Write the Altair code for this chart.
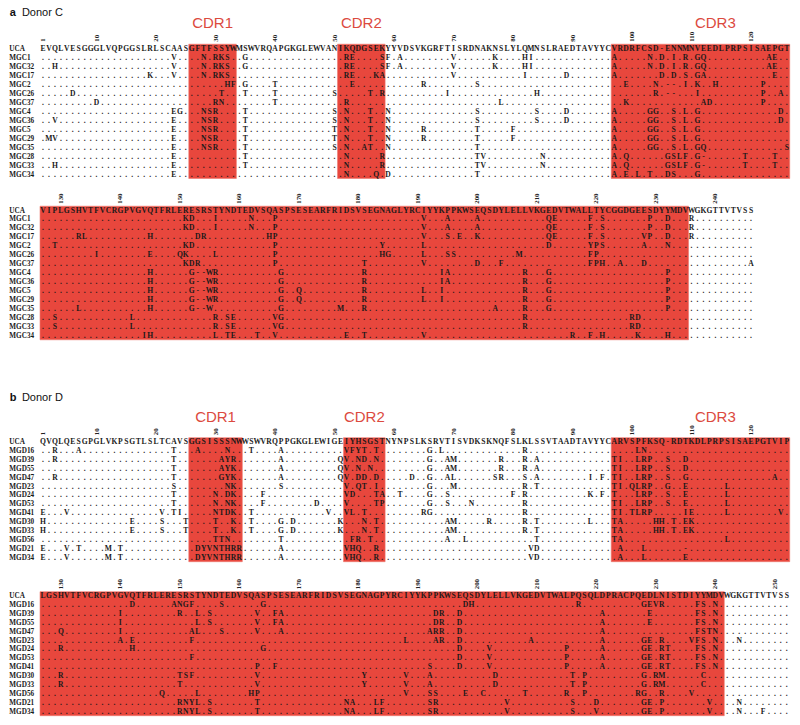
import re
import altair as alt
import pandas as pd

# ---------------- sequence data ----------------
C_UCA_1 = "EVQLVESGGGLVQPGGSLRLSCAASGFTFSSYWMSWVRQAPGKGLEWVANIKQDGSEKYYVDSVKGRFTISRDNAKNSLYLQMNSLRAEDTAVYYCVRDRFCSD-ENNMNVEEDLPRPSISAEPGT"
C_UCA_2 = "VIPLGSHVTFVCRGPVGVQTFRLERESRSTYNDTEDVSQASPSESEARFRIDSVSEGNAGLYRCIYYKPPKWSEQSDYLELLVKGEDVTWALLTYCGGDGEESDYYMDVWGKGTTVTVSS"
C_NAMES = ["MGC1", "MGC32", "MGC17", "MGC2", "MGC26", "MGC37", "MGC4", "MGC36",
           "MGC5", "MGC29", "MGC35", "MGC28", "MGC33", "MGC34"]
C_MUTS = [
    "23V 28N 30RKS 35G 52RE 58SF 61A 70V 77K 82HI 97A 103N 105D 107I 109R 111GQ 123AE 151KD 156I 162N 166P 191V 195A 200A 212QE 219F 221S 229P 232D 236R",
    "3H 23V 28N 30RKS 35G 52RE 58SF 61A 70V 77K 82HI 97A 103N 105D 107I 109R 111GQ 123AE 151KD 156I 162N 166P 191V 195A 200A 212QE 219F 221S 229P 232D 236R",
    "19K 23V 28N 30RKS 52RE 57KA 70V 82I 89D 97A 105D 107D 109S 111GA 124E 133RL 145H 153DR 165HP 191V 195S 197E 200K 212QE 219F 221S 228VP 232D 236R",
    "32HF 35G 40T 53E 65R 74S 99E 104N 106-- 109I 111K 114H 122P 129T 151KD 166P 184Y 191L 212D 219YPS 228A 232N",
    "6D 31T 35T 40T 50S 56T 58R 69I 84H 104R 106-- 111I 122P 125A 136I 145E 150QK 156L 166P 184HG 191L 195SS 207M 219FP",
    "10D 30RN 40T 52R 78L 99K 112AD 122P 151KDR 166P 181T 191V 200D 204F 219FPH 224A 228D 246A",
    "23EG 28NSR 35T 50S 52N 56T 59N 74S 84S 89D 97A 103GG 107S 109L 111G 125D 145H 152G--WR 167G 181R 194IA 208R 212G 232P",
    "3V 23E 28NSR 35T 50S 52N 56T 59N 74S 84S 89D 97A 103GG 107S 109L 111G 125D 145H 152G--WR 167G 181R 194IA 208R 212G 232P",
    "23E 28NSR 35T 50T 52N 56T 59N 65R 74T 80F 97A 103GG 107S 109L 111G 145H 152G--WR 167G 170Q 181R 191L 194I 208R 212G 232P",
    "2MV 23E 28NSR 35T 50T 52N 56T 59N 65R 74T 80F 97A 103GG 107S 109L 111G 145H 152G--WR 167G 170Q 181R 191L 194I 208R 212G 232P",
    "23E 28NSR 35T 50S 52N 55AT 59N 74T 97A 103GG 107S 109L 111GQ 126S 133L 145H 152G--W 167G 177M 181R 203A 208R 212G 232P",
    "23E 35T 52N 58R 74TV 85N 97A 99Q 106GSLF 111G- 119T 124T 129S 142L 156R 158SE 166VG 208R 226RD",
    "3H 23E 35T 52N 58R 74TV 85N 97A 99Q 106GSLF 111G- 119T 124T 129S 142L 156R 158SE 166VG 208R 226RD",
    "23E 52N 57Q 59D 74T 97A 99E 101L 103T 106DS 111G 144IH 156L 158TE 163T 166V 178E 181T 191V 216R 219F 221H 227K 232H",
]

D_UCA_1 = "QVQLQESGPGLVKPSGTLSLTCAVSGGSISSSNWWSWVRQPPGKGLEWIGEIYHSGSTNYNPSLKSRVTISVDKSKNQFSLKLSSVTAADTAVYYCARVSPFKSQ-RDTKDLPRPSISAEPGTVIP"
D_UCA_2 = "LGSHVTFVCRGPVGVQTFRLERESRSTYNDTEDVSQASPSESEARFRIDSVSEGNAGPYRCIYYKPPKWSEQSDYLELLVKGEDVTWALPQSQLDPRACPQEDLNISTDIYYMDVWGKGTTVTVSS"
D_NAMES = ["MGD16", "MGD39", "MGD55", "MGD47", "MGD23", "MGD24", "MGD53", "MGD41",
           "MGD30", "MGD33", "MGD56", "MGD21", "MGD34"]
D_MUTS = [
    "3R 7A 23T 27A 32N 36T 41A 52VFYT 57T 66G 68L 82R 101LN 142D 149ANGF 157S 164G 198DH 217R 228GEVR 237FS 240N",
    "3R 23T 31AYR 41A 51QV 54ND 57N 66G 69AM 78R 82R 84A 97TI 101LRP 106S 109D 140I 150R 153L 155S 163V 166FA 193DR 197D 221A 229E 237FS 240N",
    "23T 31AYK 41A 51QV 54N 56N 66G 69AM 78R 82R 84A 97TI 101LRP 106S 109D 140I 153L 155S 163V 166FA 193DR 197D 221A 229E 237FS 240N",
    "3R 23T 31GYK 41A 51QV 54DD 57D 63D 66G 69AL 77SR 82S 84A 93I 95F 97TI 101LRP 106S 109G 124A 130Q 140I 152AL 157S 163V 167A 192ARR 197D 221A 237FSTN",
    "23S 32NK 41S 52V 54QT 57I 66G 70M 82R 84T 97TI 100QLRP 106G 109E 116L 140A 142E 152F 188L 193AR 197D 209A 221A 228GE 231R 236VFS 240N 244N",
    "23T 30N 32DK 38F 52VD 57TA 61T 66G 69S 80F 82R 93K 95F 97T 101LRP 106S 109E 116L 130R 142H 164G 197D 202V 215P 221A 228GE 231RT 237FS 240N",
    "23T 30N 32NK 38F 47D 52V 57TP 66G 69S 73N 82R 97TI 101LRP 106S 109E 116L 152F 197D 202V 215P 221A 228GE 231RT 237FS 240N",
    "1E 5V 21V 23TI 30NTDK 36T 49V 52VL 55T 65RG 82R 97TI 100TLRP 109IE 116L 125V 163P 166F 192S 197D 202V 215P 221A 228GE 231RT 237FS 240N",
    "1H 16E 21S 25T 30T 33K 36T 41G 43D 51K 55N 57T 69AM 76R 82R 84T 93L 97TA 104HH 107T 109EK 130R 150TSF 163V 181Y 188V 192A 203D 216T 218P 228G 230RM 238C",
    "1H 16E 21S 25T 30T 33K 36T 41G 43D 51K 55N 57T 69AM 82R 84T 97TA 104HH 107T 109EK 130R 150T 163V 181Y 188V 192A 203D 216T 218P 228G 230RM 238C",
    "30TTN 41T 53FR 56T 69A 72L 84T 97TA 116L 147Q 153L 162HP 188V 192SS 198E 201C 208T 215R 218P 227RG 231R 236V",
    "1E 5V 7T 12M 14T 27DYVNTHRR 41A 52VHQ 57R 83VD 98A 102L 109- 150RNYL 155S 163T 178NA 183LF 192SR 205V 216S 220D 228GE 231P 239V 244N",
    "1E 5V 12M 14T 27DYVNTHRR 41A 52VHQ 57R 83VD 98A 102L 109E 150RNYL 155S 163T 178NA 183LF 192SR 205V 216S 220V 228GE 231P 239V 244N 248F",
]

# CDR boxes (alignment positions, inclusive)
C_CDR = [(26, 33), (51, 58), (97, 126), (127, 235)]
D_CDR = [(26, 34), (52, 58), (97, 126), (127, 241)]
CDR_NAMES = ["CDR1", "CDR2", "CDR3"]
C_CDR_LABEL_POS = [29.5, 54.5, 114]
D_CDR_LABEL_POS = [30, 55, 114]

TICKS_1 = [1, 10, 20, 30, 40, 50, 60, 70, 80, 90, 100, 110, 120]
C_TICKS_2 = [130, 140, 150, 160, 170, 180, 190, 200, 210, 220, 230, 240]
D_TICKS_2 = [130, 140, 150, 160, 170, 180, 190, 200, 210, 220, 230, 240, 250]

PANELS = [("a", "Donor C"), ("b", "Donor D")]

# ---------------- layout (page pixels) ----------------
W, H = 784, 709
TOP = 8
X_DOMAIN = [-4.882, 126.882]
LABEL_COL = -4.66
TITLE_LETTER_COL = -4.6
TITLE_TEXT_COL = -2.55
BLOCKS = [
    # donor, first alignment position, y of UCA row, row step
    ("C", 1, 48.5, 9.0),
    ("C", 127, 210.5, 8.95),
    ("D", 1, 442.0, 8.9),
    ("D", 127, 596.0, 8.9),
]
TITLE_Y = {"C": 13.0, "D": 398.3}
CDR_LABEL_DY = -25.5
TICK_DY = -6.8
BOX_TOP_DY = -4.3
BOX_BOT_DY = 4.0

SEQ_FONT = "Liberation Serif"


def parse(m):
    out = {}
    for pos, letters in re.findall(r"(\d+)([A-Z\-]+)", m):
        for k, ch in enumerate(letters):
            out[int(pos) + k] = ch
    return out


donors = {
    "C": dict(uca=[C_UCA_1, C_UCA_2], names=C_NAMES, muts=[parse(m) for m in C_MUTS],
              cdr=C_CDR, lab=C_CDR_LABEL_POS, ticks=[TICKS_1, C_TICKS_2]),
    "D": dict(uca=[D_UCA_1, D_UCA_2], names=D_NAMES, muts=[parse(m) for m in D_MUTS],
              cdr=D_CDR, lab=D_CDR_LABEL_POS, ticks=[TICKS_1, D_TICKS_2]),
}

res, rows, boxes, ticks, cdrlab, t_letters, t_names = [], [], [], [], [], [], []
for donor, first, uca_y, step in BLOCKS:
    d = donors[donor]
    part = 0 if first == 1 else 1
    seq = d["uca"][part]
    names = ["UCA"] + d["names"]
    offset = first - 1
    for r, name in enumerate(names):
        y = uca_y + r * step - TOP
        rows.append(dict(col=LABEL_COL, y=y, t=name))
        for i, ch in enumerate(seq):
            pos = first + i
            c = ch if r == 0 else d["muts"][r - 1].get(pos, ".")
            res.append(dict(col=i + 1, y=y, t=c))
    last_y = uca_y + (len(names) - 1) * step - TOP
    for (s, e) in d["cdr"]:
        if (s > offset) and (s <= offset + len(seq)):
            boxes.append(dict(x=s - offset - 0.5, x2=e - offset + 0.5,
                              y=uca_y - TOP + BOX_TOP_DY, y2=last_y + BOX_BOT_DY))
    for tk in d["ticks"][part]:
        ticks.append(dict(col=tk - offset, y=uca_y - TOP + TICK_DY, t=str(tk)))
    if part == 0:
        for nm, p in zip(CDR_NAMES, d["lab"]):
            cdrlab.append(dict(col=p, y=uca_y - TOP + CDR_LABEL_DY, t=nm))

for (letter, name), donor in zip(PANELS, ["C", "D"]):
    t_letters.append(dict(col=TITLE_LETTER_COL, y=TITLE_Y[donor] - TOP, t=letter))
    t_names.append(dict(col=TITLE_TEXT_COL, y=TITLE_Y[donor] - TOP, t=name))

xs = alt.Scale(domain=X_DOMAIN, nice=False, zero=False)
ys = alt.Scale(domain=[0, H], nice=False, zero=False, reverse=True)


def X(f):
    return alt.X(f, type="quantitative", scale=xs, axis=None)


def Y(f):
    return alt.Y(f, type="quantitative", scale=ys, axis=None)


box_layer = alt.Chart(pd.DataFrame(boxes)).mark_rect(
    color="#e8473d", stroke="#ee7a70", strokeWidth=0.6
).encode(x=X("x"), x2="x2", y=Y("y"), y2="y2")

res_layer = alt.Chart(pd.DataFrame(res)).mark_text(
    font=SEQ_FONT, fontWeight="bold", fontSize=7.6, color="#1a1a1a",
    align="center", baseline="middle"
).encode(x=X("col"), y=Y("y"), text="t:N")

row_layer = alt.Chart(pd.DataFrame(rows)).mark_text(
    font=SEQ_FONT, fontWeight="bold", fontSize=7.2, color="#1a1a1a",
    align="left", baseline="middle"
).encode(x=X("col"), y=Y("y"), text="t:N")

tick_layer = alt.Chart(pd.DataFrame(ticks)).mark_text(
    font=SEQ_FONT, fontWeight="bold", fontSize=6.8, color="#222222",
    align="left", baseline="middle", angle=270
).encode(x=X("col"), y=Y("y"), text="t:N")

cdr_layer = alt.Chart(pd.DataFrame(cdrlab)).mark_text(
    font="Liberation Sans", fontSize=15, color="#dc4a3e",
    align="center", baseline="middle"
).encode(x=X("col"), y=Y("y"), text="t:N")

letter_layer = alt.Chart(pd.DataFrame(t_letters)).mark_text(
    font="Liberation Sans", fontSize=11, fontWeight="bold", color="#111111",
    align="left", baseline="middle"
).encode(x=X("col"), y=Y("y"), text="t:N")

name_layer = alt.Chart(pd.DataFrame(t_names)).mark_text(
    font="Liberation Sans", fontSize=11, color="#111111",
    align="left", baseline="middle"
).encode(x=X("col"), y=Y("y"), text="t:N")

chart = alt.layer(box_layer, res_layer, row_layer, tick_layer, cdr_layer,
                  letter_layer, name_layer).properties(
    width=W, height=H, padding=0, autosize=alt.AutoSizeParams(type="none"),
    background="white"
).configure_view(stroke=None)

chart.save("out.html", embed_options={"renderer": "svg", "actions": False})
